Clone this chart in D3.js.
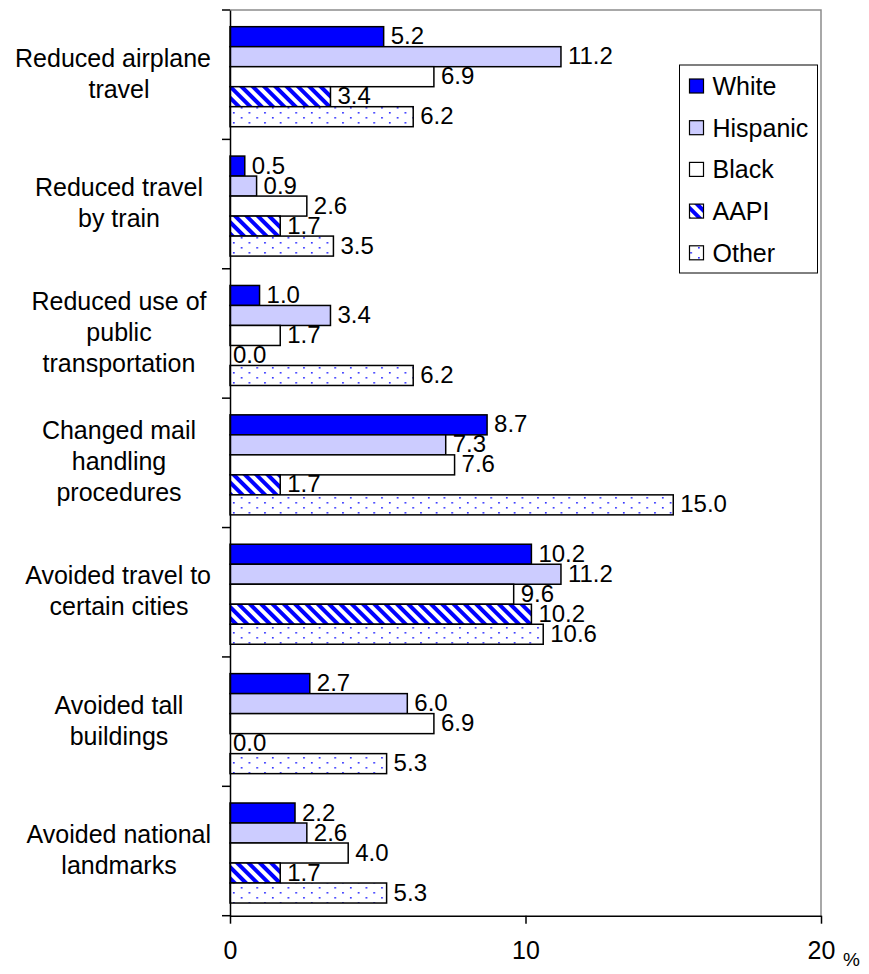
<!DOCTYPE html>
<html>
<head>
<meta charset="utf-8">
<script src="https://cdn.jsdelivr.net/npm/d3@7"></script>
<style>
  html, body { margin: 0; padding: 0; background: #fff; }
  svg { display: block; font-family: "Liberation Sans", Arial, sans-serif; }
</style>
</head>
<body>
<div id="chart"></div>
<script>
// categories (top to bottom), lines split where the original wraps
var categories = [
    "Reduced airplane|travel",
    "Reduced travel|by train",
    "Reduced use of|public|transportation",
    "Changed mail|handling|procedures",
    "Avoided travel to|certain cities",
    "Avoided tall|buildings",
    "Avoided national|landmarks"
];
var seriesNames = ["White", "Hispanic", "Black", "AAPI", "Other"];
var white    = [5.2, 0.5, 1.0, 8.7, 10.2, 2.7, 2.2];
var hispanic = [11.2, 0.9, 3.4, 7.3, 11.2, 6.0, 2.6];
var black    = [6.9, 2.6, 1.7, 7.6, 9.6, 6.9, 4.0];
var aapi     = [3.4, 1.7, 0.0, 1.7, 10.2, 0.0, 1.7];
var other    = [6.2, 3.5, 6.2, 15.0, 10.6, 5.3, 5.3];
var xTicks = [0, 10, 20];
var xMax = 20;

var seriesValues = [white, hispanic, black, aapi, other];
var fills = ["#0000ff", "#ccccff", "#ffffff", "url(#stripes)", "url(#dots)"];

var width = 869, height = 974;
var margin = {left: 230, right: 48, top: 10, bottom: 58.3};
var plotW = width - margin.left - margin.right;
var plotH = height - margin.top - margin.bottom;

var svg = d3.select("#chart").append("svg")
    .attr("width", width).attr("height", height);

// patterns
var defs = svg.append("defs");
var stripes = defs.append("pattern").attr("id", "stripes")
    .attr("patternUnits", "userSpaceOnUse")
    .attr("width", 8).attr("height", 8)
    .attr("patternTransform", "rotate(-45)");
stripes.append("rect").attr("width", 8).attr("height", 8).attr("fill", "#fff");
stripes.append("rect").attr("width", 4).attr("height", 8).attr("fill", "#0000ff");

var dots = defs.append("pattern").attr("id", "dots")
    .attr("patternUnits", "userSpaceOnUse")
    .attr("width", 15.6).attr("height", 10);
dots.append("rect").attr("width", 15.6).attr("height", 10).attr("fill", "#fff");
dots.append("rect").attr("x", 3).attr("y", 2).attr("width", 1.6).attr("height", 1.6).attr("fill", "#2222ff");
dots.append("rect").attr("x", 10.8).attr("y", 7).attr("width", 1.6).attr("height", 1.6).attr("fill", "#2222ff");

var g = svg.append("g").attr("transform", "translate(" + margin.left + "," + margin.top + ")");

var x = d3.scaleLinear().domain([0, xMax]).range([0, plotW]);
var y = d3.scaleBand().domain(categories).range([0, plotH]).padding(0);
var bw = y.bandwidth();
var ys = d3.scaleBand().domain(seriesNames).range([bw * 0.129, bw * 0.902]).padding(0);

// plot frame (top & right in gray)
g.append("path")
    .attr("d", "M0,0H" + plotW + "V" + plotH)
    .attr("fill", "none").attr("stroke", "#8c8c8c").attr("stroke-width", 1.5);

// bars
var rows = [];
categories.forEach(function(c, i){
    seriesNames.forEach(function(s, j){
        rows.push({cat: c, series: s, value: seriesValues[j][i], fill: fills[j]});
    });
});

g.selectAll("rect.bar").data(rows).enter().append("rect")
    .attr("class", "bar")
    .attr("x", 0)
    .attr("y", function(d){ return y(d.cat) + ys(d.series); })
    .attr("width", function(d){ return x(d.value); })
    .attr("height", ys.bandwidth())
    .attr("fill", function(d){ return d.fill; })
    .attr("stroke", function(d){ return d.value > 0 ? "#000" : "none"; })
    .attr("stroke-width", 1.5);

g.selectAll("text.val").data(rows).enter().append("text")
    .attr("class", "val")
    .attr("x", function(d){ return x(d.value) + (d.value > 0 ? 7 : 3); })
    .attr("y", function(d){ return y(d.cat) + ys(d.series) + ys.bandwidth() - 2.5; })
    .attr("font-size", 24)
    .attr("fill", "#000")
    .text(function(d){ return d3.format(".1f")(d.value); });

// x axis
var xAxis = d3.axisBottom(x).tickValues(xTicks).tickSize(8).tickSizeOuter(0).tickPadding(18);
var xg = g.append("g").attr("transform", "translate(0," + plotH + ")").call(xAxis);
xg.select(".domain").attr("stroke", "#000").attr("stroke-width", 1.5);
xg.selectAll(".tick line").attr("stroke", "#000").attr("stroke-width", 1.5);
xg.selectAll(".tick text").attr("font-size", 25).attr("font-family", "Liberation Sans, Arial, sans-serif").attr("fill", "#000");
g.append("text").attr("x", plotW + 22).attr("y", plotH + 50)
    .attr("font-size", 19).attr("fill", "#000").text("%");

// y axis: line plus ticks on category boundaries
var yAxis = d3.axisLeft(y).tickSize(0).tickSizeOuter(0).tickFormat("");
var yg = g.append("g").call(yAxis);
yg.select(".domain").attr("stroke", "#000").attr("stroke-width", 1.5);
var bounds = categories.map(function(c){ return y(c); }).concat([plotH]);
g.selectAll("line.ybound").data(bounds).enter().append("line")
    .attr("class", "ybound")
    .attr("x1", -8).attr("x2", 0)
    .attr("y1", function(d){ return d; }).attr("y2", function(d){ return d; })
    .attr("stroke", "#000").attr("stroke-width", 1.5);

// category labels
var lineH = 31;
categories.forEach(function(c){
    var lines = c.split("|");
    var cy = y(c) + bw / 2;
    lines.forEach(function(t, k){
        var tx = g.append("text")
            .attr("y", cy + (k - (lines.length - 1) / 2) * lineH + 7.5)
            .attr("font-size", 25)
            .attr("fill", "#000")
            .attr("text-anchor", "middle")
            .text(t);
        var w = tx.node().getComputedTextLength();
        var cx = Math.min(-111, -19 - w / 2);
        tx.attr("x", cx);
    });
});

// legend
var lg = svg.append("g").attr("transform", "translate(679.5,65)");
lg.append("rect").attr("width", 138).attr("height", 208)
    .attr("fill", "#fff").attr("stroke", "#000").attr("stroke-width", 1);
seriesNames.forEach(function(s, j){
    var cy = 21 + j * 41.7;
    lg.append("rect").attr("x", 10).attr("y", cy - 7).attr("width", 14).attr("height", 14)
        .attr("fill", fills[j]).attr("stroke", "#000").attr("stroke-width", 1.2);
    lg.append("text").attr("x", 33).attr("y", cy + 9)
        .attr("font-size", 25).attr("fill", "#000").text(s);
});
</script>
</body>
</html>
